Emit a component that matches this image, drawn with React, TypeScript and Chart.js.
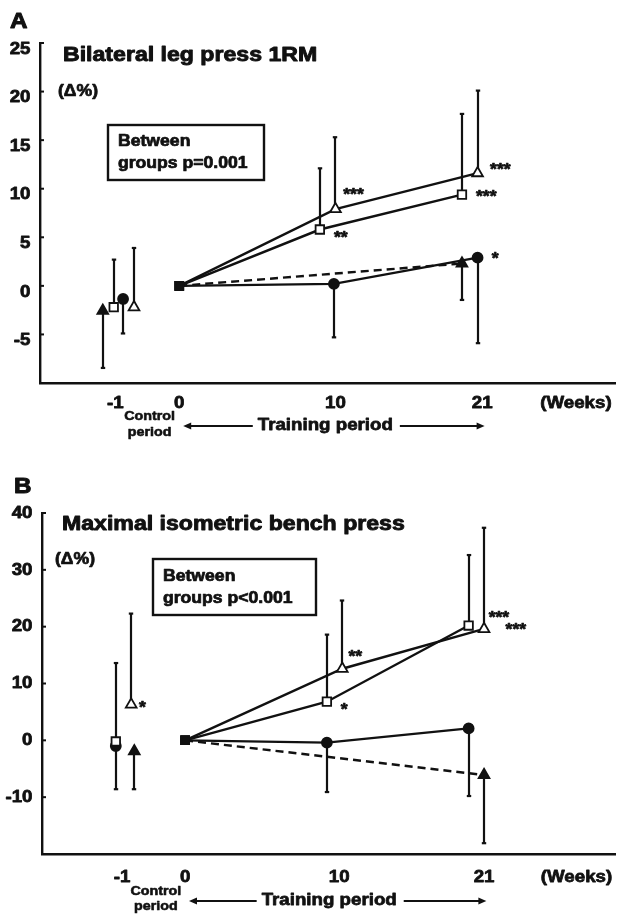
import React, { useEffect, useRef } from 'react';
import { Chart, registerables } from 'chart.js';
Chart.register(...registerables);

// ---------- shared time axis ----------
const timeLabels = ['-1', '0', '10', '21'];
// position of each time point on the drawn (non-uniform) time axis
const timeAxisPos = [-4.1, 0, 10, 19.4];

// ---------- Panel A: Bilateral leg press 1RM ----------
const aYTicks = [25, 20, 15, 10, 5, 0, -5];
const aSquareX = [-4.2, 0, 9.0, 18.1];
const aSquareY = [-2.2, 0, 5.8, 9.4];
const aSquareErr = [2.7, null, 12.1, 17.7];
const aCircleX = [-3.6, 0, 9.9, 19.1];
const aCircleY = [-1.35, 0, 0.2, 2.9];
const aCircleErr = [-4.9, null, -5.3, -5.9];
const aOpenTriX = [-2.9, 0, 10.0, 19.1];
const aOpenTriY = [-2.2, 0, 7.9, 11.6];
const aOpenTriErr = [3.9, null, 15.3, 20.1];
const aFilledTriX = [-4.9, 0, null, 18.1];
const aFilledTriY = [-2.55, 0, null, 2.3];
const aFilledTriErr = [-8.45, null, null, -1.45];
const aStars = ['***', '**', '***', '***', '*'];
const aStarX = [10.5, 9.9, 19.9, 19.0, 20.0];
const aStarY = [9.8, 5.4, 12.3, 9.6, 3.2];

// ---------- Panel B: Maximal isometric bench press ----------
const bYTicks = [40, 30, 20, 10, 0, -10];
const bSquareX = [-4.5, 0, 9.2, 18.4];
const bSquareY = [-0.2, 0, 6.8, 20.2];
const bSquareErr = [13.6, null, 18.6, 32.6];
const bCircleX = [-4.5, 0, 9.2, 18.4];
const bCircleY = [-1.0, 0, -0.4, 2.1];
const bCircleErr = [-8.6, null, -9.1, -9.8];
const bOpenTriX = [-3.5, 0, 10.2, 19.4];
const bOpenTriY = [6.3, 0, 12.6, 19.6];
const bOpenTriErr = [22.3, null, 24.6, 37.4];
const bFilledTriX = [-3.3, 0, null, 19.4];
const bFilledTriY = [-1.9, 0, null, -6.1];
const bFilledTriErr = [-8.6, null, null, -18.1];
const bStars = ['*', '**', '*', '***', '***'];
const bStarX = [-3.0, 10.6, 10.1, 19.7, 20.8];
const bStarY = [6.5, 15.4, 6.0, 22.3, 20.2];

const INK = '#111';
const FONT = '"Liberation Sans", Arial, Helvetica, sans-serif';
const SX = 1.1;

type Series = {
  x: (number | null)[];
  y: (number | null)[];
  err: (number | null)[];
  style: string;
  fill: string;
  radius: number;
  dash: number[];
};

type Panel = {
  id: string;
  top: number;
  canvasH: number;
  padTop: number;
  padRight: number;
  yAxisW: number;
  xAxisH: number;
  xMin: number;
  xMax: number;
  yMin: number;
  yMax: number;
  yTicks: number[];
  labelDy: number;
  letter: string;
  letterPos: [number, number];
  title: string;
  titlePos: [number, number];
  deltaPos: [number, number];
  box: [number, number, number, number];
  boxLines: string[];
  boxLineY: [number, number];
  tickLabelY: number;
  controlY: number;
  periodY: number;
  trainY: number;
  series: Series[];
  stars: string[];
  starX: number[];
  starY: number[];
};

const mkSeries = (x, y, err, style, fill, radius, dash): Series => ({ x, y, err, style, fill, radius, dash });

const panelA: Panel = {
  id: 'A', top: 0, canvasH: 450, padTop: 43, padRight: 5, yAxisW: 40, xAxisH: 67,
  xMin: -8.92, xMax: 27.9, yMin: -10, yMax: 25, yTicks: aYTicks, labelDy: 6,
  letter: 'A', letterPos: [10, 22],
  title: 'Bilateral leg press 1RM', titlePos: [63, 55],
  deltaPos: [58, 92],
  box: [108, 125, 156, 55], boxLines: ['Between', 'groups p=0.001'], boxLineY: [142, 164],
  tickLabelY: 403, controlY: 416, periodY: 432, trainY: 425,
  series: [
    mkSeries(aSquareX, aSquareY, aSquareErr, 'rect', '#fff', 6, []),
    mkSeries(aOpenTriX, aOpenTriY, aOpenTriErr, 'triangle', '#fff', 6.2, []),
    mkSeries(aCircleX, aCircleY, aCircleErr, 'circle', INK, 5, []),
    mkSeries(aFilledTriX, aFilledTriY, aFilledTriErr, 'triangle', INK, 6.2, [8, 5]),
  ],
  stars: aStars, starX: aStarX, starY: aStarY,
};

const panelB: Panel = {
  id: 'B', top: 450, canvasH: 465, padTop: 63, padRight: 1, yAxisW: 42, xAxisH: 61,
  xMin: -9.29, xMax: 27.9, yMin: -20, yMax: 40, yTicks: bYTicks, labelDy: 0,
  letter: 'B', letterPos: [14, 37],
  title: 'Maximal isometric bench press', titlePos: [62, 74.5],
  deltaPos: [55, 110],
  box: [153, 109, 163, 56], boxLines: ['Between', 'groups p<0.001'], boxLineY: [127, 149],
  tickLabelY: 427, controlY: 441, periodY: 456, trainY: 450,
  series: [
    mkSeries(bSquareX, bSquareY, bSquareErr, 'rect', '#fff', 6, []),
    mkSeries(bOpenTriX, bOpenTriY, bOpenTriErr, 'triangle', '#fff', 6.2, []),
    mkSeries(bCircleX, bCircleY, bCircleErr, 'circle', INK, 5, []),
    mkSeries(bFilledTriX, bFilledTriY, bFilledTriErr, 'triangle', INK, 6.2, [8, 5]),
  ],
  stars: bStars, starX: bStarX, starY: bStarY,
};

function txt(ctx: CanvasRenderingContext2D, s: string, x: number, y: number, size: number,
  align: CanvasTextAlign = 'left', baseline: CanvasTextBaseline = 'middle', sx = SX) {
  ctx.save();
  ctx.font = `bold ${size}px ${FONT}`;
  ctx.fillStyle = INK;
  ctx.strokeStyle = INK;
  ctx.lineWidth = Math.max(0.5, size * 0.045);
  ctx.lineJoin = 'round';
  ctx.textAlign = align;
  ctx.textBaseline = baseline;
  ctx.translate(x, y);
  ctx.scale(sx, 1);
  ctx.fillText(s, 0, 0);
  ctx.strokeText(s, 0, 0);
  ctx.restore();
}

function txtWidth(ctx: CanvasRenderingContext2D, s: string, size: number, sx = SX) {
  ctx.save();
  ctx.font = `bold ${size}px ${FONT}`;
  const w = ctx.measureText(s).width * sx;
  ctx.restore();
  return w;
}

function arrowHead(ctx: CanvasRenderingContext2D, x: number, y: number, dir: number) {
  ctx.beginPath();
  ctx.moveTo(x, y);
  ctx.lineTo(x - dir * 8, y - 3.5);
  ctx.lineTo(x - dir * 8, y + 3.5);
  ctx.closePath();
  ctx.fill();
}

function makePlugin(p: Panel) {
  return {
    id: 'deco' + p.id,
    beforeDatasetsDraw(chart: any) {
      const ctx: CanvasRenderingContext2D = chart.ctx;
      const xs = chart.scales.x;
      const ys = chart.scales.y;
      ctx.save();
      ctx.strokeStyle = INK;
      ctx.lineWidth = 2.2;
      p.series.forEach((s) => {
        s.x.forEach((xv, i) => {
          const e = s.err[i];
          const yv = s.y[i];
          if (xv == null || e == null || yv == null) return;
          const px = Math.round(xs.getPixelForValue(xv));
          const py0 = ys.getPixelForValue(yv);
          const py1 = ys.getPixelForValue(e);
          ctx.beginPath();
          ctx.moveTo(px, py0);
          ctx.lineTo(px, py1);
          ctx.stroke();
          ctx.beginPath();
          ctx.moveTo(px - 2.2, py1);
          ctx.lineTo(px + 2.2, py1);
          ctx.stroke();
        });
      });
      ctx.restore();
    },
    afterDraw(chart: any) {
      const ctx: CanvasRenderingContext2D = chart.ctx;
      const xs = chart.scales.x;
      const ys = chart.scales.y;
      const area = chart.chartArea;
      ctx.save();
      ctx.strokeStyle = INK;
      ctx.fillStyle = INK;
      // y ticks (inward) and labels
      ctx.lineWidth = 2;
      p.yTicks.forEach((v) => {
        const py = ys.getPixelForValue(v);
        ctx.beginPath();
        ctx.moveTo(area.left, py);
        ctx.lineTo(area.left + 4, py);
        ctx.stroke();
        txt(ctx, String(v), area.left - 9.5, py + p.labelDy, 17, 'right');
      });
      // x tick labels
      timeLabels.forEach((lab, i) => {
        txt(ctx, lab, xs.getPixelForValue(timeAxisPos[i]), p.tickLabelY, 17, 'center');
      });
      txt(ctx, '(Weeks)', xs.getPixelForValue(25.4), p.tickLabelY, 17, 'center');
      // control period
      const cx = xs.getPixelForValue(-1.9);
      txt(ctx, 'Control', cx, p.controlY, 13, 'center');
      txt(ctx, 'period', cx, p.periodY, 13, 'center');
      // training period arrow
      const tl = 'Training period';
      const tcx = xs.getPixelForValue(9.35);
      const tw = txtWidth(ctx, tl, 17);
      txt(ctx, tl, tcx, p.trainY, 17, 'center');
      const ay = p.trainY + 1;
      const ax0 = xs.getPixelForValue(0.25);
      const ax1 = xs.getPixelForValue(19.55);
      ctx.lineWidth = 2;
      ctx.beginPath();
      ctx.moveTo(ax0 + 5, ay);
      ctx.lineTo(tcx - tw / 2 - 5, ay);
      ctx.moveTo(tcx + tw / 2 + 7, ay);
      ctx.lineTo(ax1 - 5, ay);
      ctx.stroke();
      arrowHead(ctx, ax0, ay, -1);
      arrowHead(ctx, ax1, ay, 1);
      // panel letter, title, unit
      txt(ctx, p.letter, p.letterPos[0], p.letterPos[1], 22, 'left');
      txt(ctx, p.title, p.titlePos[0], p.titlePos[1], 21, 'left');
      txt(ctx, '(Δ%)', p.deltaPos[0], p.deltaPos[1], 16, 'left');
      // box
      ctx.lineWidth = 2.4;
      ctx.strokeRect(p.box[0], p.box[1], p.box[2], p.box[3]);
      txt(ctx, p.boxLines[0], p.box[0] + 10, p.boxLineY[0], 16, 'left');
      txt(ctx, p.boxLines[1], p.box[0] + 10, p.boxLineY[1], 16, 'left');
      // significance stars
      p.stars.forEach((s, i) => {
        const px = xs.getPixelForValue(p.starX[i]);
        const py = ys.getPixelForValue(p.starY[i]);
        txt(ctx, s, px, py + 16 * 0.57, 16, 'left', 'alphabetic');
      });
      ctx.restore();
    },
  };
}

function PanelChart({ p }: { p: Panel }) {
  const ref = useRef<HTMLCanvasElement>(null);
  useEffect(() => {
    const canvas = ref.current;
    if (!canvas) return;
    const datasets = p.series.map((s) => {
      const data: any[] = [];
      s.x.forEach((xv, i) => {
        const yv = s.y[i];
        if (xv == null || yv == null) return;
        data.push({ x: xv, y: yv, t: timeLabels[i] });
      });
      const isZero = (c: any) => c.raw && c.raw.t === '0';
      return {
        data,
        borderColor: INK,
        borderWidth: 2.4,
        borderDash: s.dash,
        tension: 0,
        showLine: true,
        fill: false,
        clip: false as any,
        pointStyle: (c: any) => (isZero(c) ? 'rect' : s.style),
        pointRadius: (c: any) => (isZero(c) ? 5.5 : s.radius),
        pointBackgroundColor: (c: any) => (isZero(c) ? INK : s.fill),
        pointBorderColor: INK,
        pointBorderWidth: 1.8,
        segment: {
          borderColor: (c: any) => (data[c.p0DataIndex] && data[c.p0DataIndex].t === '-1' ? 'rgba(0,0,0,0)' : INK),
        },
      };
    });
    const chart = new Chart(canvas, {
      type: 'line',
      data: { datasets } as any,
      options: {
        responsive: false,
        animation: false,
        devicePixelRatio: 1,
        events: [],
        layout: { padding: { top: p.padTop, right: p.padRight, left: 0, bottom: 0 } },
        plugins: {
          legend: { display: false },
          tooltip: { enabled: false },
          title: { display: false },
        },
        scales: {
          x: {
            type: 'linear',
            min: p.xMin,
            max: p.xMax,
            grid: { display: false },
            ticks: { display: false },
            border: { display: true, color: INK, width: 2.4 },
            afterFit: (s: any) => { s.height = p.xAxisH; },
          },
          y: {
            type: 'linear',
            min: p.yMin,
            max: p.yMax,
            grid: { display: false },
            ticks: { display: false },
            border: { display: true, color: INK, width: 2.4 },
            afterFit: (s: any) => { s.width = p.yAxisW; },
          },
        },
      } as any,
      plugins: [makePlugin(p)],
    });
    return () => chart.destroy();
  }, [p]);
  return (
    <canvas
      ref={ref}
      width={623}
      height={p.canvasH}
      style={{ position: 'absolute', left: 0, top: p.top, width: 623, height: p.canvasH }}
    />
  );
}

export default function App() {
  return (
    <div style={{ position: 'absolute', left: 0, top: 0, width: 623, height: 915, background: '#fff', overflow: 'hidden' }}>
      <PanelChart p={panelA} />
      <PanelChart p={panelB} />
    </div>
  );
}
